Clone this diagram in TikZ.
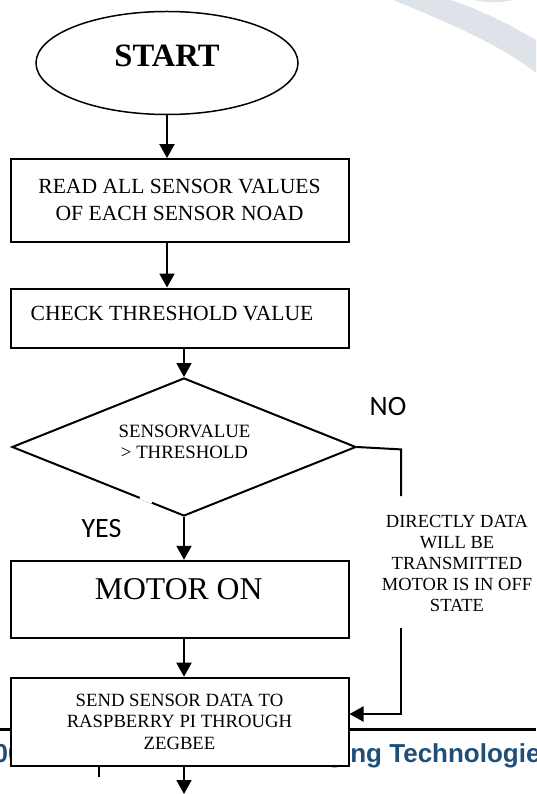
\documentclass[tikz,border=0pt]{standalone}
\usepackage{fontspec}
\setmainfont{Liberation Serif}
\newfontfamily\calibrifont{Carlito}
\newfontfamily\arialfont{Liberation Sans}
\usepackage{xcolor}
\usepackage{tikz}
\usetikzlibrary{arrows.meta,shapes.geometric}
\definecolor{footblue}{RGB}{31,78,121}
\definecolor{wmark}{RGB}{221,227,232}

\begin{document}
\begin{tikzpicture}[x=1pt,y=-1pt,
	box/.style={draw,line width=2pt,fill=white,minimum width=338pt,inner sep=0pt,align=center},
	arr/.style={line width=2pt,-{Triangle[length=14pt,width=15pt]}},
	yesno/.style={font=\calibrifont\fontsize{28}{30}\selectfont,inner sep=0pt}]
			\useasboundingbox (0,0) rectangle (536,794);
			% Nền trang
			\fill[wmark] (393,0) .. controls (455,25) and (505,48) .. (536,73) -- (536,40) .. controls (505,22) and (480,10) .. (451,0) -- cycle;
			\fill[wmark] (473,0) .. controls (488,3) and (500,3) .. (513,0) -- cycle;
			\draw[line width=3.5pt] (0,729.5) -- (536,729.5);
			\node[anchor=base west,inner sep=0pt,text=footblue,font=\arialfont\bfseries\fontsize{26}{28}\selectfont] (footr) at (262,762) {Emerging Technologies};
			\node[anchor=base west,inner sep=0pt,text=footblue,font=\arialfont\bfseries\fontsize{26}{28}\selectfont] (footl) at (-6.5,762) {00};
			\draw[line width=1.5pt] (99,766) -- (99,777);
			% Các khối
			\node[ellipse,draw,line width=1.5pt,fill=white,minimum width=262pt,minimum height=103pt,inner sep=0pt] (start) at (167,63) {};
			\node[font=\bfseries\fontsize{32.6}{34}\selectfont,inner sep=0pt] (starttext) at (167,56) {START};
			\node[box,minimum height=82.7pt,font=\fontsize{21.6}{27}\selectfont] (read) at (179.5,200.4) {READ ALL SENSOR VALUES\\OF EACH SENSOR NOAD};
			\node[box,minimum height=59.2pt] (check) at (179.5,318.1) {};
			\node[font=\fontsize{21.6}{27}\selectfont,inner sep=0pt] (checktext) at (172,313.5) {CHECK THRESHOLD VALUE};
			\node[diamond,draw,line width=2pt,minimum width=344pt,minimum height=138pt,inner sep=0pt] (dec) at (184,447) {};
			\node[font=\fontsize{18.8}{21}\selectfont,inner sep=0pt,align=center] (dectext) at (184.5,441.5) {SENSORVALUE\\> THRESHOLD};
			\draw[white,line width=3pt] (140,497.6) -- (152,502.3);
			\node[box,minimum height=77.2pt] (motor) at (179.5,599.4) {};
			\node[font=\fontsize{31.7}{33}\selectfont,inner sep=0pt] (motortext) at (178.7,589) {MOTOR ON};
			\node[box,minimum height=88pt,font=\fontsize{18.7}{21.2}\selectfont] (send) at (179.5,721.7) {SEND SENSOR DATA TO\\RASPBERRY PI THROUGH\\ZEGBEE};
			\node[font=\fontsize{18.5}{20.8}\selectfont,inner sep=0pt,align=center] (side) at (457,563.5) {DIRECTLY DATA\\WILL BE\\TRANSMITTED\\MOTOR IS IN OFF\\STATE};
			\node[yesno] (no) at (388,407) {NO};
			\node[yesno] (yes) at (101.5,528.5) {YES};
			% Các mũi tên
			\coordinate (noturn) at (401,449.4);
			\coordinate (noend) at (401,496);
			\coordinate (offtop) at (401,628);
			\coordinate (offturn) at (401,714);
			\coordinate (fin) at (184,794);
			\draw[arr] (start.south) -- (read.north -| start.south);
			\draw[arr] (read.south -| start.south) -- (check.north -| start.south);
			\draw[arr] (check.south -| dec.north) -- (dec.north);
			\draw[arr] (dec.south) -- (motor.north -| dec.south);
			\draw[arr] (motor.south -| dec.south) -- (send.north -| dec.south);
			\draw[arr] (send.south -| dec.south) -- (fin);
			\draw[line width=2pt] (dec.east) -- (noturn) -- (noend);
			\draw[arr] (offtop) -- (offturn) -- (offturn -| send.east);
		\end{tikzpicture}
\end{document}
